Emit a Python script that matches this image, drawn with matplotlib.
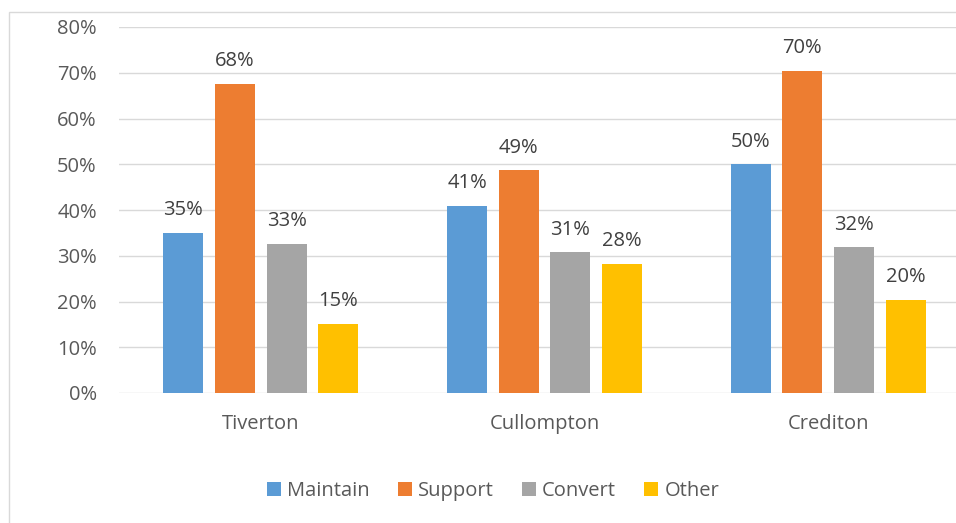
import matplotlib
matplotlib.use("Agg")
import matplotlib.pyplot as plt
import numpy as np
from matplotlib.patches import Rectangle

categories = ["Tiverton", "Cullompton", "Crediton"]
series_names = ["Maintain", "Support", "Convert", "Other"]
maintain = [35.0, 40.9, 50.0]
support = [67.6, 48.7, 70.4]
convert = [32.6, 30.8, 31.9]
other = [15.1, 28.2, 20.4]
colors = ["#5b9bd5", "#ed7d31", "#a5a5a5", "#ffc000"]
yticks = [0, 10, 20, 30, 40, 50, 60, 70, 80]

plt.rcParams['font.family'] = ['Open Sans', 'DejaVu Sans']
text_color = "#595959"
label_color = "#404040"
fs = 14.5

fig = plt.figure(figsize=(9.56, 5.23), dpi=100)
# chart border
fig.patches.append(Rectangle((9/956, -0.1), 1.1, 1 - 12/523 + 0.1, transform=fig.transFigure,
                             fill=False, edgecolor="#d9d9d9", linewidth=1))

ax = fig.add_axes([119/956, 1 - 393/523, 851/956, (393 - 27)/523])
x = np.arange(len(categories))
step = 0.182
width = 0.141
all_series = [maintain, support, convert, other]
for i, (name, vals, c) in enumerate(zip(series_names, all_series, colors)):
    pos = x + (i - 1.5) * step
    bars = ax.bar(pos, vals, width=width, color=c, label=name, zorder=3)
    for b, v in zip(bars, vals):
        ax.annotate(f"{round(v):d}%", (b.get_x() + b.get_width() / 2, v),
                    xytext=(0, 9), textcoords="offset points", ha="center", va="bottom",
                    fontsize=fs, color=label_color)

ax.set_xlim(-0.5, 2.5)
ax.set_ylim(0, 80)
ax.set_yticks(yticks)
ax.set_yticklabels([f"{t}%" for t in yticks])
ax.set_xticks(x)
ax.set_xticklabels(categories)
ax.yaxis.grid(True, color="#d9d9d9", linewidth=1, zorder=0)
ax.set_axisbelow(True)
for s in ax.spines.values():
    s.set_visible(False)
ax.tick_params(axis="both", length=0, labelsize=fs, colors=text_color)
ax.tick_params(axis="y", pad=16)
ax.tick_params(axis="x", pad=15)

fig.legend(loc="center", bbox_to_anchor=(493/956, 1 - 491/523), ncol=4, frameon=False,
           fontsize=fs, labelcolor=text_color, handlelength=0.7, handleheight=0.7,
           handletextpad=0.3, columnspacing=1.4)

fig.savefig("out.png", dpi=100)
